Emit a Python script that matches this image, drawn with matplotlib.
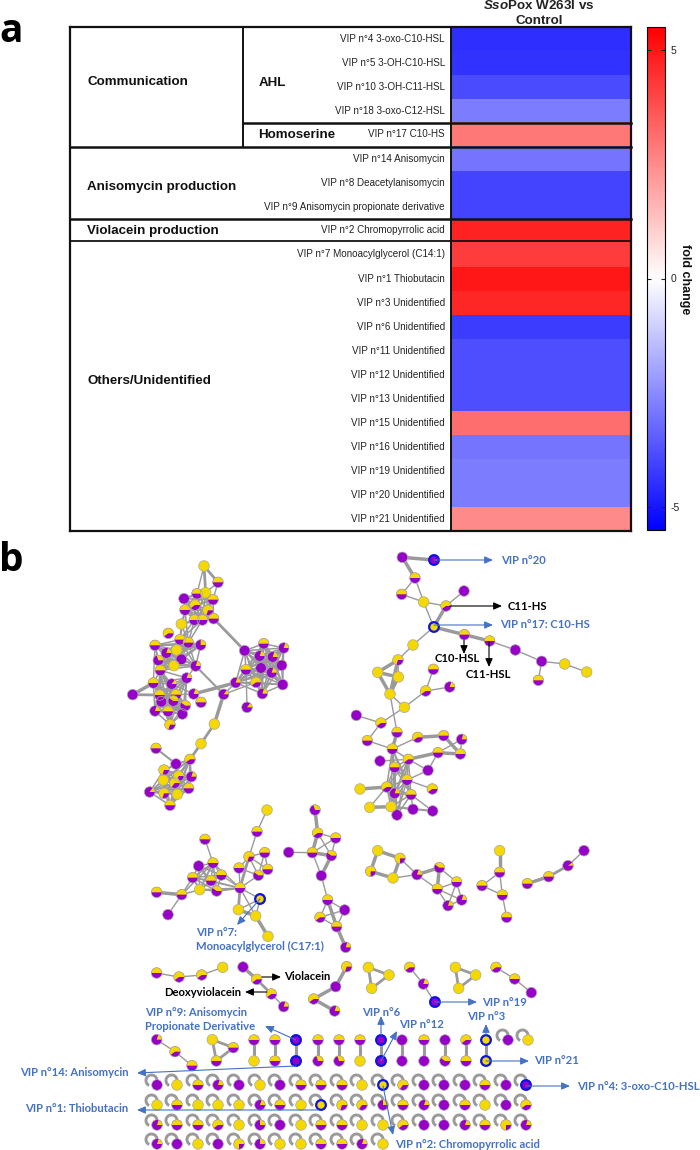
import itertools
import numpy as np
import matplotlib
matplotlib.use('Agg')
import matplotlib.pyplot as plt
from matplotlib.colors import LinearSegmentedColormap, Normalize
from matplotlib.cm import ScalarMappable
from matplotlib.patches import Arc, Circle, Wedge

plt.rcParams['font.family'] = ['Liberation Sans', 'DejaVu Sans']
plt.rcParams['axes.unicode_minus'] = False
plt.rcParams['mathtext.fontset'] = 'custom'
plt.rcParams['mathtext.bfit'] = 'Liberation Sans:italic:bold'
plt.rcParams['mathtext.bf'] = 'Liberation Sans:bold'

# ---- panel a ----
row_labels = ['VIP n°4 3-oxo-C10-HSL', 'VIP n°5 3-OH-C10-HSL', 'VIP n°10 3-OH-C11-HSL',
              'VIP n°18 3-oxo-C12-HSL', 'VIP n°17 C10-HS', 'VIP n°14 Anisomycin',
              'VIP n°8 Deacetylanisomycin', 'VIP n°9 Anisomycin propionate derivative',
              'VIP n°2 Chromopyrrolic acid', 'VIP n°7 Monoacylglycerol (C14:1)',
              'VIP n°1 Thiobutacin', 'VIP n°3 Unidentified', 'VIP n°6 Unidentified',
              'VIP n°11 Unidentified', 'VIP n°12 Unidentified', 'VIP n°13 Unidentified',
              'VIP n°15 Unidentified', 'VIP n°16 Unidentified', 'VIP n°19 Unidentified',
              'VIP n°20 Unidentified', 'VIP n°21 Unidentified']
fold_change = [-4.5, -4.4, -3.9, -2.8, 2.9, -3.0, -4.0, -4.0, 4.75, 4.2, 5.0,
               4.65, -4.2, -3.8, -3.8, -3.8, 3.1, -3.0, -2.8, -2.8, 2.5]
row_edges = [27, 51, 75, 99, 122, 146, 171, 195, 219, 241, 267, 291, 315, 339,
             363, 387, 411, 435, 459, 483, 507, 531]

# ---- panel b: nodes are (x, y, yellow fraction), edges (i, j) or (i, j, width) ----
big_nodes = [(612, 78, 1), (654, 127, .5), (552, 176, 0), (591, 161, .5), (617, 158, 1),
             (639, 179, .5), (585, 195, .6), (555, 210, .5), (624, 211, .7), (583, 240, .5),
             (607, 240, .5), (641, 236, .5), (544, 252, 1), (505, 280, .6), (465, 316, .5),
             (540, 299, .5), (565, 308, .5), (602, 315, .25), (530, 330, 1), (499, 339, .2),
             (475, 361, .3), (544, 358, 0), (522, 377, 1), (587, 378, .2), (481, 391, .5),
             (560, 414, .2), (460, 429, .5), (515, 432, .15), (398, 464, 0), (479, 465, .5),
             (528, 464, .5), (581, 462, .2), (603, 487, .5), (484, 485, 0), (520, 483, .4),
             (556, 497, .4), (465, 513, .2), (504, 514, .5), (547, 522, 0), (510, 554, .7),
             (734, 332, 0), (791, 311, .5), (851, 324, .2), (779, 348, .2), (818, 351, .2),
             (845, 376, 0), (783, 384, 0), (738, 389, .5), (815, 398, .2), (707, 428, .2),
             (768, 427, .6), (848, 434, 0), (787, 461, .2), (671, 463, .15), (741, 502, .15),
             (643, 552, 1), (603, 611, 1), (468, 625, .5), (528, 672, 0), (570, 658, .6),
             (492, 690, .7), (536, 708, .7), (574, 710, .2), (490, 720, 1), (524, 729, .65),
             (566, 745, .5), (449, 756, .15), (492, 760, .7), (532, 763, 1), (510, 796, .5)]
big_cliques = [[2, 3, 4, 5, 6, 7, 8, 9, 10, 11], [7, 9, 10, 12, 15, 16],
               [14, 15, 16, 17, 18, 19, 20, 21, 22, 23, 24],
               [24, 25, 26, 27, 29, 30, 33, 34, 35, 36, 37, 38, 39],
               [40, 41, 42, 43, 44, 45, 46, 47, 48, 49, 50, 51, 52],
               [59, 60, 61, 62, 63, 64, 65, 66, 67, 68, 69]]
big_edges = [(0, 1, 2), (0, 4, 2), (1, 4), (1, 5), (0, 3), (11, 40, 2), (23, 53, 1.5), (31, 49, 2.5),
             (53, 49), (53, 50), (53, 55, 2.5), (55, 56, 2), (56, 59, 2), (57, 58, 1.5), (58, 59),
             (58, 60), (47, 54), (28, 26, 2.5), (28, 29, 2), (27, 31), (30, 31), (14, 26), (25, 23)]

long_nodes = [(187, 52, 0), (282, 60, 0), (225, 114, .5), (185, 163, .5), (251, 186, 1),
              (372, 153, 0), (318, 198, .6), (281, 261, 1), (373, 284, .5), (449, 303, .5),
              (526, 330, 0), (605, 364, 0), (674, 372, 1), (740, 396, 1), (595, 421, .5),
              (219, 315, 1), (174, 360, .7), (113, 397, 1), (175, 411, 1), (150, 462, 1),
              (280, 388, .5), (329, 441, .2), (257, 453, .6), (193, 502, 1), (49, 526, 0),
              (123, 549, .6), (171, 577, .5), (82, 602, .5), (233, 592, .6), (311, 587, .5),
              (365, 598, .2), (157, 627, .5), (294, 638, .5), (361, 642, .5), (120, 663, 0),
              (205, 658, .6), (164, 682, .5), (264, 691, 0), (201, 720, .5), (60, 747, 1),
              (140, 741, .6), (277, 747, .6), (164, 760, .2), (213, 764, .5), (89, 802, 1),
              (153, 800, 1), (219, 808, 0), (278, 813, 0), (171, 825, 0)]
long_cliques = [[31, 35, 36, 38, 40, 42, 43, 45, 48]]
long_edges = [(0, 1, 2.5), (0, 2, 2.5), (2, 3), (2, 4), (3, 4), (4, 6), (4, 7), (5, 6), (6, 7, 2.5),
              (7, 8, 2.5), (8, 9, 2.5), (9, 10), (10, 11), (11, 12), (12, 13), (11, 14), (7, 15),
              (15, 16), (16, 17, 2.5), (16, 18), (16, 19, 2.5), (17, 18, 2.5), (17, 19, 2.5),
              (18, 19, 2.5), (19, 23), (19, 26), (20, 22), (21, 22), (22, 23), (23, 25), (24, 25),
              (25, 27), (26, 31, 2.5), (27, 31), (28, 29, 2.5), (28, 31), (29, 33, 2.5), (30, 33),
              (32, 33, 2.5), (30, 32), (32, 35, 2.5), (32, 37), (34, 35), (35, 37), (38, 37), (38, 41),
              (39, 40, 2.5), (44, 45, 2.5), (45, 46), (43, 47), (40, 44), (43, 46), (45, 47, 1.5)]

mid_nodes = [(225, 88, .5), (80, 247, .5), (114, 314, 0), (155, 254, .5), (206, 168, 0),
             (249, 159, .5), (188, 203, .5), (243, 212, .5), (274, 195, .5), (209, 239, 1),
             (260, 243, .4), (330, 234, .5), (327, 174, .5), (385, 196, .4), (357, 140, .7),
             (404, 128, .5), (413, 178, .5), (381, 65, .5), (411, 0, 1), (391, 267, 1),
             (325, 299, 1), (377, 318, 1), (414, 379, 1), (476, 127, 0), (563, 69, .6),
             (617, 84, .5), (547, 128, .5), (604, 137, .4), (574, 197, 0), (593, 270, .5),
             (644, 300, 0), (570, 322, .6), (620, 350, .5), (647, 412, .2), (555, 0, .3),
             (743, 122, 1), (810, 145, .75), (722, 184, .75), (789, 204, 1), (861, 194, .2),
             (928, 173, .4), (980, 216, .5), (922, 237, .5), (995, 270, .2), (954, 287, .2)]
mid_cliques = [[4, 5, 6, 7, 8, 9, 10], [3, 5, 6, 9]]
mid_edges = [(0, 5), (1, 3, 2.5), (2, 3), (8, 11), (5, 11), (6, 11), (7, 11), (10, 11, 1.5), (9, 11),
             (11, 12), (11, 14, 2), (11, 13), (11, 19), (11, 20, 2), (12, 14), (12, 13), (13, 14),
             (13, 15), (13, 16), (14, 15), (14, 16), (15, 16), (14, 17), (17, 18), (19, 20), (19, 21),
             (20, 21, 2.5), (21, 22, 2.5), (11, 21), (34, 24, 2.5), (24, 25), (24, 26, 2.5), (24, 27),
             (25, 26), (25, 27), (26, 27, 2.5), (23, 26), (26, 28), (27, 28, 2.5), (28, 29), (29, 30),
             (29, 31), (29, 32, 2.5), (30, 32), (31, 32), (32, 33, 2.5), (31, 30), (35, 36, 2.5),
             (35, 37, 2.5), (36, 38, 2.5), (37, 38, 2.5), (38, 39), (36, 39), (39, 40, 2.5), (40, 41),
             (40, 42, 2.5), (41, 42), (39, 42), (42, 43), (41, 43), (42, 44), (41, 44), (43, 44)]

side_nodes = [(119, 122, 1), (119, 187, .5), (66, 227, .5), (127, 255, .5), (140, 322, .5),
              (202, 221, .5), (266, 200, .5), (324, 167, .1), (372, 122, 0)]
side_edges = [(0, 1, 2.5), (1, 2), (1, 3), (2, 3), (3, 4), (5, 6, 2.5), (6, 7, 2), (7, 8)]

left_nodes = [(470, 39, .5), (537, 51, .6), (605, 45, .6), (668, 22, 1),
              (729, 21, 0), (770, 58, .6), (814, 102, .6), (851, 140, .2),
              (941, 117, .6), (1007, 80, 0), (1004, 153, .2), (1040, 20, .7),
              (470, 239, .2), (525, 275, .6), (576, 317, .5),
              (637, 239, 1), (700, 263, .5), (649, 303, .5)]
left_edges = [(0, 1), (1, 2), (2, 3), (4, 5, 2.5), (5, 6, 2), (6, 7), (8, 9, 2.5), (8, 10, 2.5),
              (9, 11, 2.5), (12, 13), (13, 14), (15, 16, 2), (16, 17, 2), (15, 17, 2)]

right_nodes = [(55, 22, 1), (117, 45, 1), (65, 85, 1), (179, 22, .6), (220, 72, .2), (254, 127, 0),
               (316, 22, 1), (377, 45, 1), (326, 85, 1), (438, 22, .6), (494, 57, .5), (544, 98, 0)]
right_edges = [(0, 1, 2), (1, 2, 2), (0, 2, 2), (3, 4), (4, 5), (6, 7, 2), (7, 8, 2), (6, 8, 2),
               (9, 10), (10, 11)]

pair_x = [254, 275, 296, 318, 339, 360, 381, 402, 424, 445, 466, 486]
pair_top = [.5, .5, 0, .5, .5, .5, 0, 0, .5, 0, .6, 1]
pair_bottom = [1, .5, 0, .3, .3, 1, 0, 0, 0, .4, .5, 1]

loop_x = [157, 177, 198, 218, 239, 260, 280, 301, 321, 342, 362, 383, 403, 424, 444, 465, 485, 506, 526]
loop_y = [1085, 1105, 1125, 1144]
loop_row_0 = [0, 1, .5, .2, 0, 1, 0, .5, .5, .5, 1, 1, .65, 0, 0, 0, .5, 0, 0]
loop_row_1 = [1, .5, 1, 1, 1, .2, .5, 1, 1, .7, .65, .25, .5, .2, 0, .5, 1, 0, .6]
loop_row_2 = [.2, .5, .5, .6, 1, .25, 0, 1, .5, .5, 1, 1, .6, 0, 0, .2, .5, .75, .2]
loop_row_3 = [.2, 0, 1, 0, .75, .25, 1, 1, .5, .5, .2, 1]
loop_top_x = [508, 528]
loop_top_y = 1040
loop_top = [0, 1]

rings = [(434, 560), (434, 627), (260, 899), (435, 1002), (296, 1040), (296, 1061), (381, 1040),
         (381, 1061), (486, 1040), (486, 1061), (383, 1085), (526, 1085), (321, 1105)]

BLUE = '#4472c4'
# text, x, y, ha, colour
net_labels = [('VIP n°20', 501, 560, 'left', BLUE), ('C11-HS', 508, 606, 'left', 'black'),
              ('VIP n°17: C10-HS', 500, 625, 'left', BLUE), ('C10-HSL', 457, 659, 'center', 'black'),
              ('C11-HSL', 488, 675, 'center', 'black'), ('VIP n°7:', 196, 932, 'left', BLUE),
              ('Monoacylglycerol (C17:1)', 196, 946, 'left', BLUE), ('Violacein', 284, 977, 'left', 'black'),
              ('Deoxyviolacein', 241, 992, 'right', 'black'), ('VIP n°9: Anisomycin', 145, 1012, 'left', BLUE),
              ('Propionate Derivative', 145, 1026, 'left', BLUE), ('VIP n°14: Anisomycin', 129, 1073, 'right', BLUE),
              ('VIP n°1: Thiobutacin', 128, 1109, 'right', BLUE), ('VIP n°6', 381, 1012, 'center', BLUE),
              ('VIP n°12', 399, 1025, 'left', BLUE), ('VIP n°3', 486, 1017, 'center', BLUE),
              ('VIP n°19', 482, 1002, 'left', BLUE), ('VIP n°21', 534, 1061, 'left', BLUE),
              ('VIP n°4: 3-oxo-C10-HSL', 577, 1086, 'left', BLUE), ('VIP n°2: Chromopyrrolic acid', 395, 1144, 'left', BLUE)]
# x0, y0, x1, y1, colour
net_arrows = [(434, 560, 493, 560, BLUE), (450, 606, 502, 606, 'black'), (434, 625, 493, 625, BLUE),
              (464, 640, 464, 654, 'black'), (489, 642, 489, 667, 'black'), (260, 899, 237, 925, BLUE),
              (262, 977, 281, 977, 'black'), (267, 992, 245, 992, 'black'), (296, 1040, 265, 1026, BLUE),
              (296, 1066, 137, 1073, BLUE), (318, 1110, 137, 1110, BLUE), (381, 1035, 381, 1016, BLUE),
              (381, 1061, 397, 1031, BLUE), (486, 1035, 486, 1024, BLUE), (435, 1002, 477, 1002, BLUE),
              (486, 1061, 529, 1061, BLUE), (526, 1086, 570, 1086, BLUE), (383, 1086, 393, 1135, BLUE)]

YELLOW = '#f5d800'
PURPLE = '#9600c8'
GREY = '#9a9a9a'
R = 5.3

fig = plt.figure(figsize=(7, 11.5), dpi=100)
ax = fig.add_axes([0, 0, 1, 1])
ax.set_xlim(0, 700)
ax.set_ylim(1150, 0)
ax.axis('off')

cmap = LinearSegmentedColormap.from_list('bwr2', ['#0000ff', '#ffffff', '#ff0000'])
norm = Normalize(-5.5, 5.5)

# heat map column
ax.pcolormesh([451, 631], row_edges, np.array(fold_change).reshape(-1, 1), cmap=cmap, norm=norm)
for i, lab in enumerate(row_labels):
    ax.text(445, (row_edges[i] + row_edges[i + 1]) / 2, lab, ha='right', va='center', fontsize=7.1, color='#222222')

# table frame
for x0, y0, x1, y1, lw in [(70, 27, 631, 27, 1.6), (70, 531, 631, 531, 1.6), (70, 27, 70, 531, 1.6),
                           (631, 27, 631, 531, 1.6), (243, 27, 243, 146, 1.4), (451, 27, 451, 531, 1.4),
                           (243, 123, 631, 123, 1.8), (70, 147, 631, 147, 1.8), (70, 219, 631, 219, 1.8),
                           (70, 241, 631, 241, 1.3)]:
    ax.plot([x0, x1], [y0, y1], color='#111111', lw=lw, solid_capstyle='projecting', zorder=3)

for txt, x, y in [('Communication', 87, 82), ('AHL', 259, 83), ('Homoserine', 258, 135),
                  ('Anisomycin production', 87, 187), ('Violacein production', 87, 231),
                  ('Others/Unidentified', 87, 381)]:
    ax.text(x, y, txt, ha='left', va='center', fontsize=9.6, fontweight='bold', color='#111111')

ax.text(539, 5.5, r'$\mathbfit{Sso}$Pox W263I vs', ha='center', va='center', fontsize=9.6, fontweight='bold', color='#222222')
ax.text(539, 21.5, 'Control', ha='center', va='center', fontsize=9.6, fontweight='bold', color='#222222')

ax.text(-1, 42, 'a', family='Open Sans', fontsize=28, fontweight='bold', ha='left', va='baseline')
ax.text(-1, 571, 'b', family='Open Sans', fontsize=28, fontweight='bold', ha='left', va='baseline')

# colour bar
cax = fig.add_axes([647 / 700, 1 - 530 / 1150, 18 / 700, 503 / 1150])
cbar = fig.colorbar(ScalarMappable(norm=norm, cmap=cmap), cax=cax, ticks=[-5, 0, 5])
cbar.ax.tick_params(direction='in', length=3, width=0.8, labelsize=7.5, left=True, right=True, pad=4, colors='#222222')
cbar.outline.set_linewidth(0.8)
ax.text(685, 279, 'fold change', rotation=270, ha='center', va='center', fontsize=9, fontweight='bold', color='#111111')


def draw_node(x, y, f):
    if f >= 1:
        ax.add_patch(Circle((x, y), R, fc=YELLOW, ec='none', zorder=4))
    elif f <= 0:
        ax.add_patch(Circle((x, y), R, fc=PURPLE, ec='none', zorder=4))
    else:
        # y axis points down, so the angles run the other way round
        ax.add_patch(Circle((x, y), R, fc=PURPLE, ec='none', zorder=4))
        ax.add_patch(Wedge((x, y), R, 360 - 360 * f, 360, fc=YELLOW, ec='none', zorder=4.1))
    ax.add_patch(Circle((x, y), R, fc='none', ec='#a8a8a8', lw=0.5, zorder=4.2))


def draw_net(nodes, edges, ox, oy, cliques=()):
    pts = [(ox + n[0] / 3, oy + n[1] / 3, n[2]) for n in nodes]
    for group in cliques:
        for i, j in itertools.combinations(group, 2):
            ax.plot([pts[i][0], pts[j][0]], [pts[i][1], pts[j][1]], color=GREY, lw=1.1, zorder=2)
    for e in edges:
        w = e[2] if len(e) > 2 else 1.0
        ax.plot([pts[e[0]][0], pts[e[1]][0]], [pts[e[0]][1], pts[e[1]][1]], color=GREY, lw=w, zorder=2)
    for x, y, f in pts:
        draw_node(x, y, f)


draw_net(big_nodes, big_edges, 0, 540, big_cliques)
draw_net(long_nodes, long_edges, 340, 540, long_cliques)
draw_net(mid_nodes, mid_edges, 130, 810, mid_cliques)
draw_net(side_nodes, side_edges, 460, 810)
draw_net(left_nodes, left_edges, 0, 960)
draw_net(right_nodes, right_edges, 350, 960)

for x, top, bottom in zip(pair_x, pair_top, pair_bottom):
    ax.plot([x, x], [1040, 1061], color=GREY, lw=2.2, zorder=2)
    draw_node(x, 1040, top)
    draw_node(x, 1061, bottom)


def draw_loop(x, y, f):
    ax.add_patch(Arc((x - 5.5, y - 4.5), 11, 11, theta1=115, theta2=55, color=GREY, lw=2.1, zorder=2))
    draw_node(x, y, f)


for y, row in zip(loop_y, [loop_row_0, loop_row_1, loop_row_2, loop_row_3]):
    for x, f in zip(loop_x, row):
        draw_loop(x, y, f)
for x, f in zip(loop_top_x, loop_top):
    draw_loop(x, loop_top_y, f)

for x, y in rings:
    ax.add_patch(Circle((x, y), 4.8, fc='none', ec='#0a14e6', lw=1.6, zorder=5))

for x0, y0, x1, y1, c in net_arrows:
    ax.annotate('', xy=(x1, y1), xytext=(x0, y0), zorder=6,
                arrowprops=dict(arrowstyle='-|>,head_width=0.22,head_length=0.5', color=c, lw=0.8,
                                shrinkA=0, shrinkB=0, mutation_scale=10))

for txt, x, y, ha, c in net_labels:
    ax.text(x, y, txt, family='Lato', fontsize=8.1, fontweight='bold', color=c, ha=ha, va='center', zorder=7)

fig.savefig('out.png', dpi=100)
